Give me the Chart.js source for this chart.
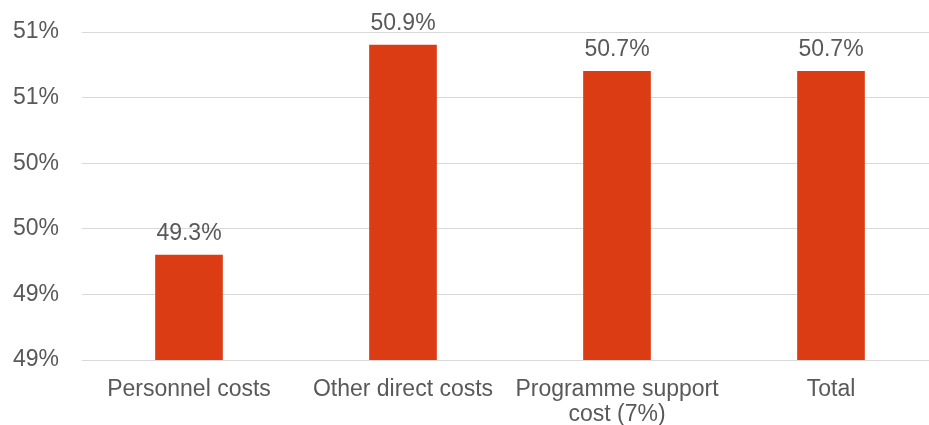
<!DOCTYPE html>
<html>
<head>
    <title>Cost share</title>
    <script src="https://cdn.jsdelivr.net/npm/chart.js"></script>
    <style>
        html, body { margin: 0; padding: 0; overflow: hidden; background: #fff; }
        #wrap { width: 938px; height: 425px; }
    </style>
</head>
<body>
    <div id="wrap"><canvas id="cost-chart"></canvas></div>

    <script>
        // Categories and percentages
        const categories = ['Personnel costs', 'Other direct costs', ['Programme support', 'cost (7%)'], 'Total'];
        const shares = [49.3, 50.9, 50.7, 50.7];

        // y axis range
        const yMin = 48.5;
        const yMax = 51.0;
        const yStep = 0.5;

        const textColor = '#595959';
        const font = "'Liberation Sans', Arial, sans-serif";
        const fontSize = 23;

        // draws the value above every bar
        const valueLabels = {
            id: 'valueLabels',
            afterDatasetsDraw(chart) {
                const ctx = chart.ctx;
                const meta = chart.getDatasetMeta(0);
                ctx.save();
                ctx.font = fontSize + 'px ' + font;
                ctx.fillStyle = textColor;
                ctx.textAlign = 'center';
                ctx.textBaseline = 'alphabetic';
                meta.data.forEach((bar, i) => {
                    ctx.fillText(shares[i].toFixed(1) + '%', bar.x, bar.y - 15);
                });
                ctx.restore();
            }
        };

        const ctx = document.getElementById('cost-chart').getContext('2d');
        new Chart(ctx, {
            type: 'bar',
            data: {
                labels: categories,
                datasets: [{
                    data: shares,
                    backgroundColor: '#DB3C14',
                    barThickness: 67
                }]
            },
            options: {
                responsive: true,
                maintainAspectRatio: false,
                animation: false,
                layout: { padding: { top: 32, left: 0, right: 0, bottom: 0 } },
                plugins: {
                    legend: { display: false },
                    tooltip: { enabled: false }
                },
                scales: {
                    x: {
                        grid: { display: false, drawTicks: false },
                        border: { color: '#d9d9d9', width: 1 },
                        ticks: {
                            color: textColor,
                            font: { family: font, size: fontSize, lineHeight: 1.05 },
                            padding: 18,
                            maxRotation: 0,
                            autoSkip: false
                        },
                        afterFit(scale) {
                            scale.height = 65;
                            scale.paddingLeft = 0;
                            scale.paddingRight = 0;
                        }
                    },
                    y: {
                        min: yMin,
                        max: yMax,
                        grid: { color: '#d9d9d9', lineWidth: 1, drawTicks: false },
                        border: { display: false },
                        ticks: {
                            stepSize: yStep,
                            color: textColor,
                            font: { family: font, size: fontSize },
                            padding: 23,
                            callback: v => Math.round(v) + '%'
                        },
                        afterFit(scale) {
                            scale.width = 82;
                            scale.paddingTop = 0;
                            scale.paddingBottom = 0;
                        }
                    }
                }
            },
            plugins: [valueLabels]
        });
    </script>
</body>
</html>
